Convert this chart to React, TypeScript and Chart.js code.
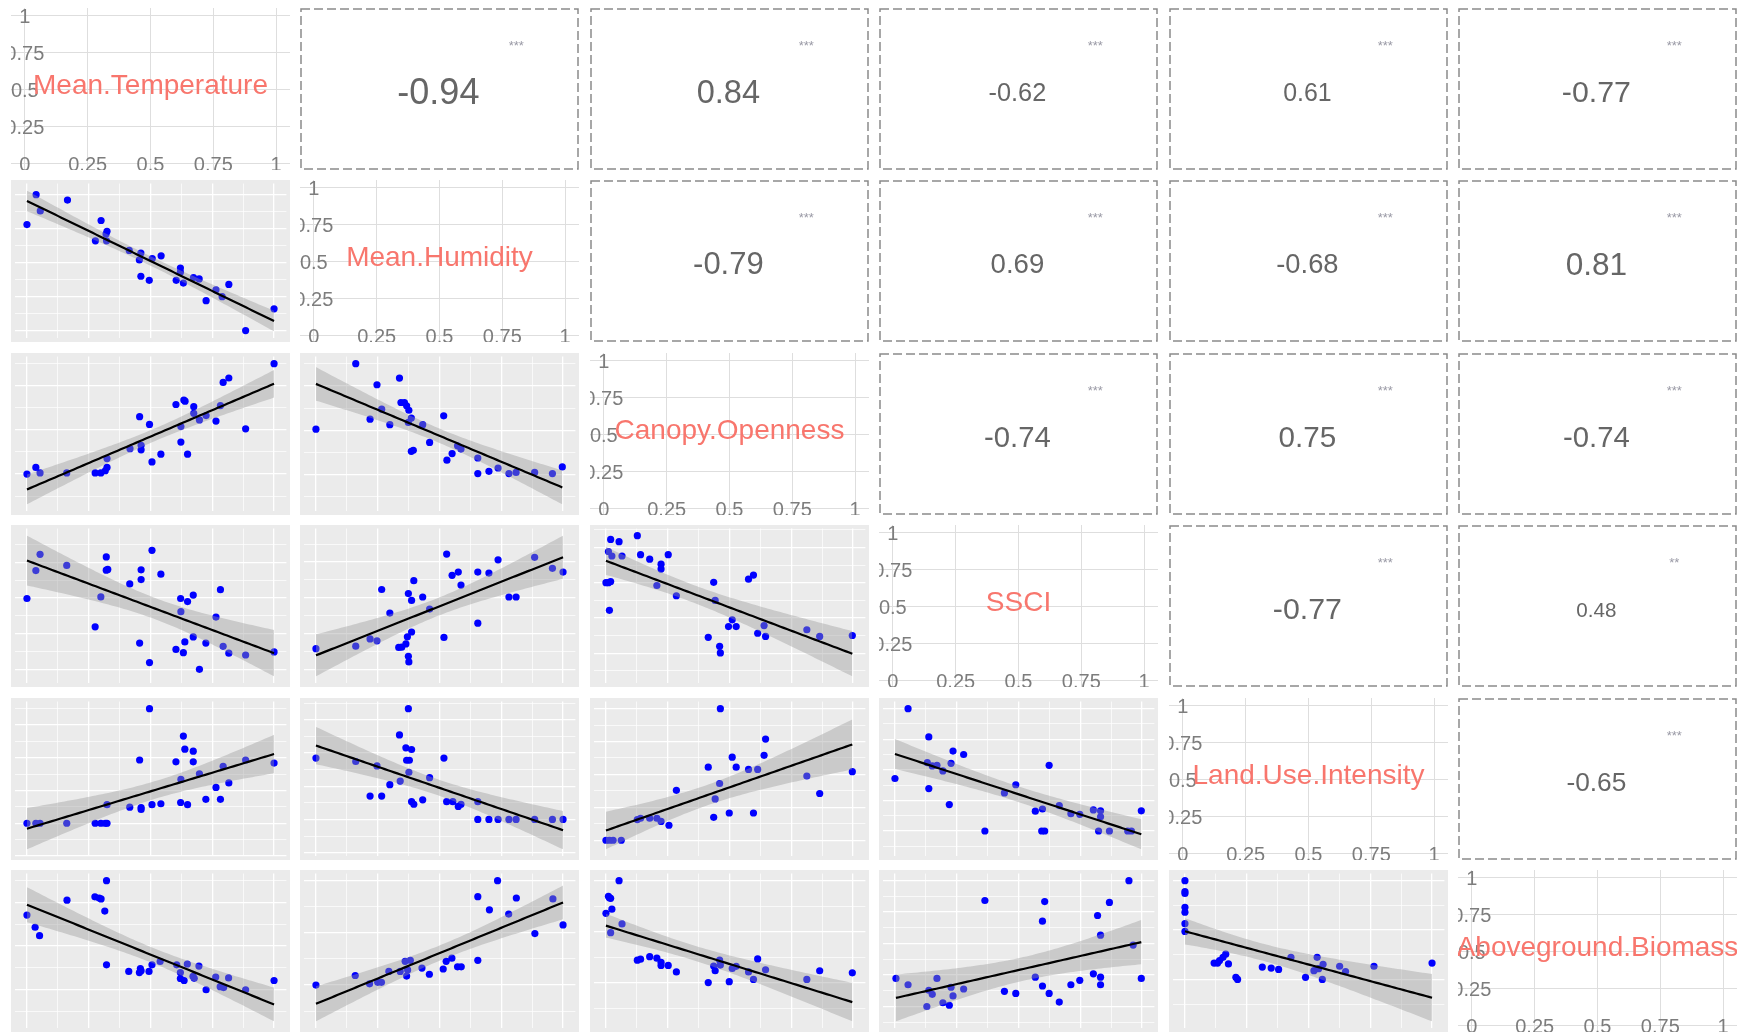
import React, { useEffect, useRef } from "react";
import { Chart, registerables } from "chart.js";
Chart.register(...registerables);

// ---------------- DATA ----------------
const variables = [
  "Mean.Temperature",
  "Mean.Humidity",
  "Canopy.Openness",
  "SSCI",
  "Land.Use.Intensity",
  "Aboveground.Biomass",
];

// upper triangle, row-major: (0,1)(0,2)(0,3)(0,4)(0,5)(1,2)...(4,5)
const corrValues = [-0.94, 0.84, -0.62, 0.61, -0.77, -0.79, 0.69, -0.68, 0.81, -0.74, 0.75, -0.74, -0.77, 0.48, -0.65];
const corrStars = ["***", "***", "***", "***", "***", "***", "***", "***", "***", "***", "***", "***", "***", "**", "***"];

const diagTickValues = [0, 0.25, 0.5, 0.75, 1];
const diagTickLabels = ["0", "0.25", "0.5", "0.75", "1"];

// scaled values (0 = min, 1 = max of each variable)
const r1c0X = [0, 0.037, 0.054, 0.164, 0.277, 0.30, 0.32, 0.324, 0.322, 0.414, 0.461, 0.455, 0.507, 0.543, 0.461, 0.495, 0.621, 0.621, 0.604, 0.633, 0.674, 0.697, 0.725, 0.765, 0.79, 0.817, 0.885, 1.0];
const r1c0Y = [0.78, 1.0, 0.88, 0.96, 0.66, 0.81, 0.71, 0.73, 0.66, 0.59, 0.57, 0.52, 0.53, 0.55, 0.40, 0.37, 0.46, 0.43, 0.37, 0.35, 0.39, 0.38, 0.22, 0.30, 0.25, 0.34, 0.0, 0.16];

const r2c0X = [0, 0.036, 0.053, 0.161, 0.276, 0.299, 0.317, 0.324, 0.324, 0.417, 0.456, 0.462, 0.462, 0.496, 0.506, 0.542, 0.603, 0.623, 0.623, 0.635, 0.64, 0.65, 0.675, 0.675, 0.698, 0.725, 0.765, 0.783, 0.794, 0.817, 0.885, 1.0];
const r2c0Y = [0.0, 0.06, 0.01, 0.01, 0.01, 0.01, 0.03, 0.06, 0.14, 0.23, 0.52, 0.26, 0.22, 0.45, 0.11, 0.18, 0.63, 0.29, 0.43, 0.67, 0.66, 0.18, 0.61, 0.55, 0.49, 0.53, 0.48, 0.62, 0.83, 0.87, 0.41, 1.0];

const r2c1X = [0, 0.161, 0.219, 0.247, 0.266, 0.299, 0.338, 0.344, 0.358, 0.367, 0.376, 0.386, 0.374, 0.386, 0.394, 0.432, 0.46, 0.517, 0.53, 0.551, 0.573, 0.587, 0.655, 0.655, 0.70, 0.737, 0.781, 0.81, 0.885, 0.957, 0.997];
const r2c1Y = [0.41, 1.0, 0.50, 0.81, 0.59, 0.45, 0.87, 0.65, 0.65, 0.62, 0.58, 0.51, 0.47, 0.21, 0.22, 0.45, 0.29, 0.53, 0.13, 0.19, 0.26, 0.23, 0.15, 0.01, 0.03, 0.06, 0.01, 0.02, 0.02, 0.01, 0.07];

const r3c0X = [0, 0.036, 0.053, 0.161, 0.276, 0.299, 0.321, 0.321, 0.327, 0.416, 0.456, 0.462, 0.462, 0.496, 0.506, 0.542, 0.603, 0.622, 0.623, 0.633, 0.639, 0.65, 0.673, 0.673, 0.698, 0.724, 0.765, 0.783, 0.794, 0.817, 0.885, 1.0];
const r3c0Y = [0.595, 0.83, 0.966, 0.873, 0.357, 0.608, 0.944, 0.833, 0.839, 0.717, 0.22, 0.836, 0.754, 0.056, 1.0, 0.799, 0.167, 0.595, 0.484, 0.14, 0.23, 0.569, 0.624, 0.272, 0.0, 0.22, 0.439, 0.669, 0.193, 0.135, 0.12, 0.146];

const r3c1X = [0, 0.161, 0.219, 0.247, 0.266, 0.299, 0.335, 0.347, 0.364, 0.370, 0.374, 0.374, 0.376, 0.387, 0.387, 0.396, 0.432, 0.46, 0.518, 0.529, 0.551, 0.576, 0.587, 0.655, 0.655, 0.70, 0.737, 0.781, 0.81, 0.885, 0.957, 1.0];
const r3c1Y = [0.172, 0.193, 0.254, 0.238, 0.669, 0.471, 0.183, 0.185, 0.212, 0.272, 0.635, 0.108, 0.061, 0.577, 0.312, 0.743, 0.606, 0.505, 0.267, 0.966, 0.788, 0.815, 0.706, 0.815, 0.386, 0.807, 0.918, 0.606, 0.606, 0.939, 0.847, 0.815];

const r3c2X = [0, 0.01, 0.019, 0.014, 0.01, 0.019, 0.024, 0.053, 0.065, 0.127, 0.14, 0.177, 0.206, 0.223, 0.223, 0.252, 0.285, 0.414, 0.436, 0.442, 0.46, 0.463, 0.496, 0.511, 0.527, 0.577, 0.597, 0.614, 0.64, 0.646, 0.813, 0.865, 0.997];
const r3c2Y = [0.60, 0.60, 0.61, 0.365, 0.865, 0.968, 0.827, 0.949, 0.827, 1.0, 0.838, 0.80, 0.576, 0.757, 0.716, 0.838, 0.489, 0.135, 0.603, 0.449, 0.059, 0.003, 0.227, 0.284, 0.227, 0.63, 0.665, 0.17, 0.235, 0.143, 0.2, 0.143, 0.151];

const r4c0X = [0, 0.036, 0.053, 0.161, 0.276, 0.299, 0.317, 0.324, 0.324, 0.416, 0.456, 0.462, 0.462, 0.496, 0.506, 0.542, 0.603, 0.622, 0.623, 0.633, 0.639, 0.65, 0.673, 0.673, 0.698, 0.724, 0.765, 0.783, 0.794, 0.817, 0.885, 1.0];
const r4c0Y = [0, 0, 0, 0, 0, 0, 0, 0, 0.162, 0.14, 0.552, 0.137, 0.121, 1.0, 0.162, 0.17, 0.536, 0.181, 0.382, 0.761, 0.646, 0.162, 0.629, 0.536, 0.431, 0.209, 0.313, 0.209, 0.497, 0.352, 0.552, 0.525];

const r4c1X = [0, 0.161, 0.219, 0.247, 0.266, 0.299, 0.338, 0.341, 0.364, 0.367, 0.378, 0.387, 0.374, 0.376, 0.387, 0.396, 0.432, 0.46, 0.518, 0.529, 0.554, 0.576, 0.587, 0.655, 0.655, 0.70, 0.737, 0.781, 0.81, 0.885, 0.957, 1.0];
const r4c1Y = [0.554, 0.523, 0.211, 0.483, 0.211, 0.314, 0.763, 0.346, 0.646, 0.534, 0.534, 0.631, 1.0, 0.426, 0.16, 0.137, 0.177, 0.377, 0.554, 0.16, 0.16, 0.117, 0.137, 0.16, 0, 0, 0, 0, 0, 0, 0, 0];

const r4c2X = [0, 0.014, 0.029, 0.062, 0.127, 0.14, 0.177, 0.206, 0.223, 0.255, 0.285, 0.414, 0.436, 0.442, 0.46, 0.463, 0.499, 0.511, 0.527, 0.577, 0.597, 0.614, 0.64, 0.646, 0.813, 0.865, 0.997];
const r4c2Y = [0, 0, 0, 0, 0.157, 0.167, 0.167, 0.167, 0.143, 0.114, 0.379, 0.555, 0.174, 0.314, 0.431, 1.0, 0.207, 0.631, 0.555, 0.538, 0.207, 0.538, 0.645, 0.769, 0.488, 0.355, 0.521];

const r4c3X = [0, 0.053, 0.137, 0.137, 0.131, 0.151, 0.17, 0.194, 0.22, 0.227, 0.235, 0.278, 0.364, 0.443, 0.489, 0.568, 0.597, 0.594, 0.606, 0.624, 0.665, 0.712, 0.748, 0.803, 0.832, 0.832, 0.824, 0.868, 0.942, 0.957, 0.997];
const r4c3Y = [0.429, 1.0, 0.769, 0.347, 0.558, 0.532, 0.537, 0.491, 0.216, 0.553, 0.653, 0.625, 0, 0.311, 0.378, 0.162, 0.18, 0, 0, 0.537, 0.208, 0.141, 0.136, 0.172, 0.165, 0.116, 0, 0, 0, 0, 0.165];

const r5c0X = [0, 0.033, 0.051, 0.162, 0.275, 0.292, 0.3, 0.315, 0.322, 0.322, 0.412, 0.455, 0.459, 0.462, 0.494, 0.506, 0.539, 0.606, 0.621, 0.621, 0.636, 0.649, 0.672, 0.677, 0.696, 0.725, 0.764, 0.782, 0.796, 0.816, 0.885, 1.0];
const r5c0Y = [0.684, 0.573, 0.496, 0.821, 0.852, 0.84, 0.832, 0.721, 1.0, 0.228, 0.168, 0.157, 0.194, 0.174, 0.168, 0.228, 0.259, 0.228, 0.157, 0.103, 0.085, 0.236, 0.123, 0.105, 0.217, 0.0, 0.117, 0.028, 0.02, 0.108, 0.0, 0.085];

const r5c1X = [0, 0.159, 0.217, 0.25, 0.265, 0.295, 0.341, 0.361, 0.382, 0.371, 0.367, 0.429, 0.459, 0.515, 0.527, 0.55, 0.573, 0.588, 0.655, 0.655, 0.702, 0.735, 0.78, 0.811, 0.886, 0.959, 1.0];
const r5c1Y = [0.0, 0.092, 0.012, 0.027, 0.027, 0.131, 0.131, 0.228, 0.237, 0.145, 0.086, 0.163, 0.104, 0.154, 0.228, 0.258, 0.175, 0.175, 0.237, 0.846, 0.721, 1.0, 0.68, 0.834, 0.493, 0.825, 0.576];

const r5c2X = [0, 0.01, 0.014, 0.019, 0.024, 0.019, 0.053, 0.065, 0.127, 0.14, 0.177, 0.206, 0.223, 0.223, 0.252, 0.285, 0.414, 0.436, 0.442, 0.46, 0.463, 0.499, 0.511, 0.527, 0.577, 0.597, 0.614, 0.646, 0.813, 0.865, 0.997];
const r5c2Y = [0.679, 0.847, 0.832, 0.826, 0.72, 0.489, 1.0, 0.575, 0.22, 0.229, 0.254, 0.239, 0.199, 0.168, 0.168, 0.104, 0.0, 0.162, 0.116, 0.22, 0.171, 0.009, 0.138, 0.159, 0.104, 0.031, 0.232, 0.125, 0.031, 0.116, 0.095];

const r5c3X = [0.004, 0.053, 0.129, 0.137, 0.151, 0.17, 0.194, 0.22, 0.227, 0.235, 0.278, 0.364, 0.443, 0.489, 0.568, 0.597, 0.597, 0.606, 0.624, 0.665, 0.712, 0.748, 0.803, 0.82, 0.832, 0.832, 0.832, 0.868, 0.947, 0.964, 0.997];
const r5c3Y = [0.223, 0.173, 0.0, 0.129, 0.097, 0.223, 0.03, 0.01, 0.153, 0.084, 0.139, 0.842, 0.121, 0.104, 0.233, 0.163, 0.678, 0.834, 0.104, 0.035, 0.173, 0.208, 0.26, 0.723, 0.567, 0.233, 0.173, 0.827, 1.0, 0.488, 0.223];

const r5c4X = [0, 0, 0, 0, 0, 0, 0, 0.118, 0.132, 0.14, 0.154, 0.165, 0.176, 0.206, 0.213, 0.313, 0.349, 0.379, 0.429, 0.488, 0.522, 0.535, 0.541, 0.559, 0.556, 0.626, 0.65, 0.765, 1.0];
const r5c4Y = [1.0, 0.89, 0.87, 0.73, 0.68, 0.565, 0.486, 0.166, 0.166, 0.192, 0.224, 0.256, 0.157, 0.022, 0.0, 0.125, 0.115, 0.102, 0.224, 0.022, 0.089, 0.224, 0.109, 0.153, 0.0, 0.134, 0.08, 0.134, 0.166];

const lowerData: Record<string, [number[], number[]]> = {
  "1-0": [r1c0X, r1c0Y],
  "2-0": [r2c0X, r2c0Y], "2-1": [r2c1X, r2c1Y],
  "3-0": [r3c0X, r3c0Y], "3-1": [r3c1X, r3c1Y], "3-2": [r3c2X, r3c2Y],
  "4-0": [r4c0X, r4c0Y], "4-1": [r4c1X, r4c1Y], "4-2": [r4c2X, r4c2Y], "4-3": [r4c3X, r4c3Y],
  "5-0": [r5c0X, r5c0Y], "5-1": [r5c1X, r5c1Y], "5-2": [r5c2X, r5c2Y], "5-3": [r5c3X, r5c3Y], "5-4": [r5c4X, r5c4Y],
};

// ---------------- STYLE ----------------
const FONT = '"Liberation Sans", Arial, Helvetica, sans-serif';
const PANEL_W = 279;
const PANEL_H = 162;
const colLeft = (c: number) => Math.round(11 + c * 289.4);
const rowTop = (r: number) => Math.round(8 + r * 172.4);
const yGridStep: Record<string, number> = {
  "1-0": 0.125, "2-0": 0.2, "2-1": 0.2, "3-0": 0.15, "3-1": 0.15, "3-2": 0.15,
  "4-0": 0.143, "4-1": 0.15, "4-2": 0.125, "4-3": 0.125,
  "5-0": 0.2, "5-1": 0.25, "5-2": 0.25, "5-3": 0.125, "5-4": 0.25,
};

// linear model fit with 95% confidence band (as geom_smooth(method = "lm"))
function lmBand(xs: number[], ys: number[]) {
  const n = xs.length;
  const mx = xs.reduce((a, b) => a + b, 0) / n;
  const my = ys.reduce((a, b) => a + b, 0) / n;
  let sxx = 0, sxy = 0;
  for (let i = 0; i < n; i++) {
    sxx += (xs[i] - mx) ** 2;
    sxy += (xs[i] - mx) * (ys[i] - my);
  }
  const b = sxy / sxx;
  const a = my - b * mx;
  let sse = 0;
  for (let i = 0; i < n; i++) sse += (ys[i] - a - b * xs[i]) ** 2;
  const s = Math.sqrt(sse / (n - 2));
  const df = n - 2;
  const z = 1.959964;
  const t = z + (z ** 3 + z) / (4 * df) + (5 * z ** 5 + 16 * z ** 3 + 3 * z) / (96 * df * df);
  const xmin = Math.min(...xs), xmax = Math.max(...xs);
  const fit: any[] = [], upper: any[] = [], lower: any[] = [];
  const m = 80;
  for (let i = 0; i < m; i++) {
    const x = xmin + ((xmax - xmin) * i) / (m - 1);
    const yh = a + b * x;
    const se = s * Math.sqrt(1 / n + (x - mx) ** 2 / sxx);
    fit.push({ x, y: yh });
    upper.push({ x, y: yh + t * se });
    lower.push({ x, y: yh - t * se });
  }
  return { fit, upper, lower };
}

const baseOptions = {
  responsive: false,
  maintainAspectRatio: false,
  animation: false as const,
  devicePixelRatio: 1,
  events: [] as any[],
  layout: { padding: 0 },
  plugins: { legend: { display: false }, tooltip: { enabled: false }, title: { display: false } },
};

function lowerConfig(key: string) {
  const [xs, ys] = lowerData[key];
  const step = yGridStep[key];
  const pts = xs.map((x, i) => ({ x, y: ys[i] }));
  const f = lmBand(xs, ys);
  const lo = Math.min(...ys, ...f.lower.map((p) => p.y));
  const hi = Math.max(...ys, ...f.upper.map((p) => p.y));
  const pad = (hi - lo) * 0.05;
  const yMin = lo - pad, yMax = hi + pad;
  const xTicks: number[] = [];
  for (let k = 0; k <= 8; k++) xTicks.push(k * 0.125);
  const yTicks: number[] = [];
  for (let k = Math.ceil(yMin / step - 1e-9); k * step <= yMax; k++) yTicks.push(k * step);
  const gridWidth = (st: number) => (ctx: any) => {
    const v = ctx.tick ? ctx.tick.value : 0;
    return Math.round(v / st) % 2 === 0 ? 1.3 : 0.7;
  };
  return {
    type: "scatter",
    data: {
      datasets: [
        { type: "scatter", data: pts, pointRadius: 3.6, pointHoverRadius: 3.6, backgroundColor: "#0000ff", borderColor: "#0000ff", borderWidth: 0, order: 3 },
        { type: "line", data: f.upper, borderColor: "transparent", borderWidth: 0, pointRadius: 0, fill: "+1", backgroundColor: "rgba(153,153,153,0.4)", order: 2, tension: 0 },
        { type: "line", data: f.lower, borderColor: "transparent", borderWidth: 0, pointRadius: 0, fill: false, order: 2, tension: 0 },
        { type: "line", data: f.fit, borderColor: "#000000", borderWidth: 2.2, pointRadius: 0, fill: false, order: 1, tension: 0 },
      ],
    },
    options: {
      ...baseOptions,
      scales: {
        x: {
          type: "linear", min: -0.05, max: 1.05,
          ticks: { display: false }, border: { display: false },
          grid: { color: "#ffffff", lineWidth: gridWidth(0.125), drawTicks: false },
          afterBuildTicks: (axis: any) => { axis.ticks = xTicks.map((v) => ({ value: v })); },
        },
        y: {
          type: "linear", min: yMin, max: yMax,
          ticks: { display: false }, border: { display: false },
          grid: { color: "#ffffff", lineWidth: gridWidth(step), drawTicks: false },
          afterBuildTicks: (axis: any) => { axis.ticks = yTicks.map((v) => ({ value: v })); },
        },
      },
    },
  };
}

function diagConfig(i: number) {
  const name = variables[i];
  const gridX = {
    type: "linear", min: -0.055, max: 1.055,
    ticks: { display: false }, border: { display: false },
    grid: { color: "#dedede", lineWidth: 1, drawTicks: false },
    afterBuildTicks: (axis: any) => { axis.ticks = diagTickValues.map((v) => ({ value: v })); },
  };
  const gridY = { ...gridX, min: -0.045, max: 1.05 };
  return {
    type: "scatter",
    data: { datasets: [] },
    options: { ...baseOptions, scales: { x: gridX, y: gridY } },
    plugins: [
      {
        id: "diagText",
        afterDraw(chart: any) {
          const { ctx } = chart;
          const x = chart.scales.x, y = chart.scales.y;
          ctx.save();
          ctx.font = `20px ${FONT}`;
          ctx.fillStyle = "#7d7d7d";
          ctx.textAlign = "center";
          ctx.textBaseline = "middle";
          diagTickValues.forEach((v, k) => {
            ctx.fillText(diagTickLabels[k], x.getPixelForValue(v), y.getPixelForValue(0) + 2);
            if (v !== 0) ctx.fillText(diagTickLabels[k], x.getPixelForValue(0), y.getPixelForValue(v) + 2);
          });
          ctx.font = `28px ${FONT}`;
          ctx.fillStyle = "#F8766D";
          ctx.fillText(name, x.getPixelForValue(0.5), y.getPixelForValue(0.53) + 1);
          ctx.restore();
        },
      },
    ],
  };
}

function upperConfig(k: number) {
  const r = corrValues[k];
  const stars = corrStars[k];
  return {
    type: "scatter",
    data: { datasets: [] },
    options: { ...baseOptions, scales: { x: { display: false, min: 0, max: 1 }, y: { display: false, min: 0, max: 1 } } },
    plugins: [
      {
        id: "corrText",
        afterDraw(chart: any) {
          const { ctx, width, height } = chart;
          ctx.save();
          ctx.strokeStyle = "#8a8a8a";
          ctx.lineWidth = 1.5;
          ctx.setLineDash([9, 4]);
          ctx.strokeRect(1, 1, width - 2, height - 2);
          ctx.setLineDash([]);
          ctx.textAlign = "center";
          ctx.textBaseline = "middle";
          const size = 4.5 + 33.5 * Math.abs(r);
          ctx.font = `${size.toFixed(1)}px ${FONT}`;
          ctx.fillStyle = "#666666";
          ctx.fillText(r.toFixed(2), width * 0.496, height * 0.53);
          ctx.font = `13px ${FONT}`;
          ctx.fillStyle = "#9a9aa6";
          ctx.fillText(stars, width * 0.775, height * 0.235);
          ctx.restore();
        },
      },
    ],
  };
}

function Panel({ row, col, bg }: { row: number; col: number; bg: string }) {
  const ref = useRef<HTMLCanvasElement | null>(null);
  useEffect(() => {
    if (!ref.current) return;
    let cfg: any;
    if (row === col) cfg = diagConfig(row);
    else if (row > col) cfg = lowerConfig(`${row}-${col}`);
    else {
      let k = 0;
      for (let r = 0; r < 6; r++) for (let c = r + 1; c < 6; c++) {
        if (r === row && c === col) cfg = upperConfig(k);
        k++;
      }
    }
    const chart = new Chart(ref.current, cfg);
    return () => chart.destroy();
  }, [row, col]);
  return (
    <canvas
      ref={ref}
      width={PANEL_W}
      height={PANEL_H}
      style={{
        position: "absolute",
        left: colLeft(col),
        top: rowTop(row),
        width: PANEL_W,
        height: PANEL_H,
        background: bg,
        display: "block",
      }}
    />
  );
}

export default function App() {
  const cells: React.ReactNode[] = [];
  for (let r = 0; r < 6; r++) {
    for (let c = 0; c < 6; c++) {
      const bg = r > c ? "#ebebeb" : "#ffffff";
      cells.push(<Panel key={`${r}-${c}`} row={r} col={c} bg={bg} />);
    }
  }
  return (
    <div style={{ position: "absolute", left: 0, top: 0, width: 1744, height: 1034, background: "#ffffff", overflow: "hidden" }}>
      {cells}
    </div>
  );
}
